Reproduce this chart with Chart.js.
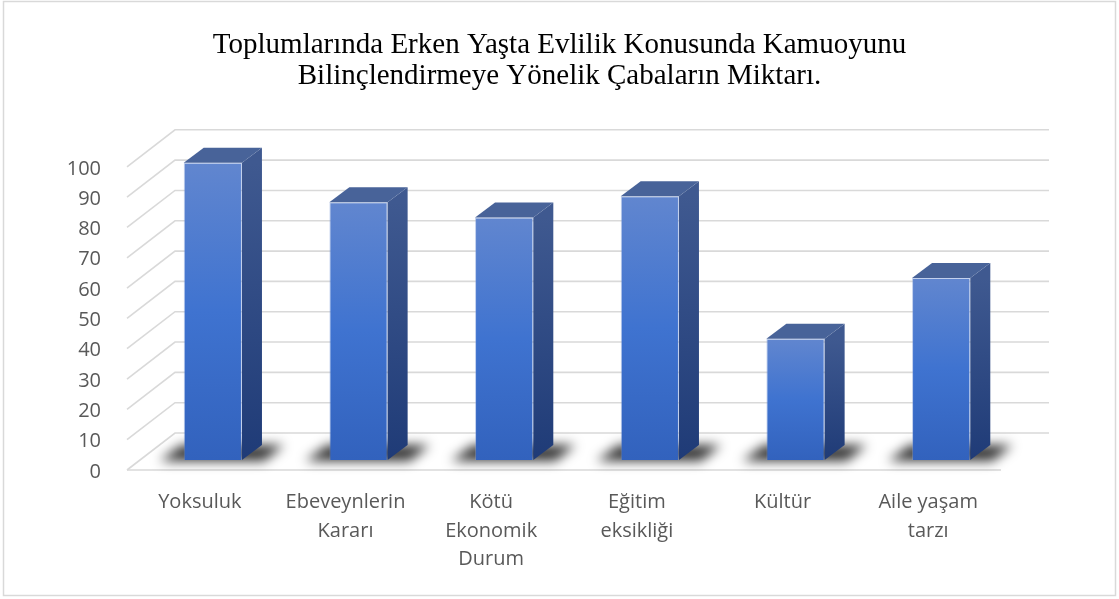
<!DOCTYPE html>
<html>
<head>
<meta charset="utf-8">
<script src="https://cdn.jsdelivr.net/npm/chart.js@4/dist/chart.umd.min.js"></script>
<style>
  html, body { margin: 0; padding: 0; background: #ffffff; }
  #wrap { width: 1119px; height: 599px; }
</style>
</head>
<body>
<div id="wrap"><canvas id="c" width="1119" height="599"></canvas></div>
<script>
// ---- data ----
const titleLines = ['Toplumlarında Erken Yaşta Evlilik Konusunda Kamuoyunu', 'Bilinçlendirmeye Yönelik Çabaların Miktarı.'];
const categories = [
  'Yoksuluk',
  ['Ebeveynlerin', 'Kararı'],
  ['Kötü', 'Ekonomik', 'Durum'],
  ['Eğitim', 'eksikliği'],
  'Kültür',
  ['Aile yaşam', 'tarzı']
];
const values = [98, 85, 80, 87, 40, 60];
const yMin = 0, yMax = 100, yStep = 10;

// ---- 3D geometry (px offsets relative to the bar front plane) ----
const DEPTH = { barDx: 20, barDy: -15, floorDx: -13, floorDy: 10, wallDx: 35, wallDy: -27 };
const GRID_COLOR = '#d9d9d9';

const threeD = {
  id: 'threeD',
  beforeDraw(chart) {
    const ctx = chart.ctx;
    ctx.save();
    ctx.fillStyle = '#ffffff';
    ctx.fillRect(0, 0, chart.width, chart.height);
    ctx.strokeStyle = '#d9d9d9';
    ctx.lineWidth = 1.5;
    ctx.strokeRect(3.5, 1.5, 1112, 594);
    ctx.restore();
  },
  beforeDatasetsDraw(chart) {
    const ctx = chart.ctx;
    const { left, right } = chart.chartArea;
    const y = chart.scales.y;
    ctx.save();
    ctx.strokeStyle = GRID_COLOR;
    ctx.lineWidth = 1.6;
    for (let v = yMin; v <= yMax; v += yStep) {
      const py = y.getPixelForValue(v);
      ctx.beginPath();
      ctx.moveTo(left + DEPTH.floorDx, py + DEPTH.floorDy);
      ctx.lineTo(left + DEPTH.wallDx, py + DEPTH.wallDy);
      ctx.lineTo(right + DEPTH.wallDx, py + DEPTH.wallDy);
      ctx.stroke();
    }
    // front floor edge
    const p0 = y.getPixelForValue(yMin);
    ctx.beginPath();
    ctx.moveTo(left + DEPTH.floorDx, p0 + DEPTH.floorDy);
    ctx.lineTo(right + DEPTH.floorDx, p0 + DEPTH.floorDy);
    ctx.stroke();

    // soft shadows on the floor
    const meta = chart.getDatasetMeta(0);
    ctx.filter = 'blur(6px)';
    ctx.fillStyle = 'rgba(0,0,0,0.8)';
    meta.data.forEach(bar => {
      const L = bar.x - bar.width / 2, R = bar.x + bar.width / 2, B = bar.base;
      ctx.beginPath();
      ctx.moveTo(L - 24, B + 1);
      ctx.lineTo(R + 22, B + 1);
      ctx.lineTo(R + 42, B - 15);
      ctx.lineTo(L - 2, B - 15);
      ctx.closePath();
      ctx.fill();
    });
    ctx.filter = 'none';
    ctx.restore();
  },
  afterDatasetsDraw(chart) {
    const ctx = chart.ctx;
    const meta = chart.getDatasetMeta(0);
    ctx.save();
    meta.data.forEach(bar => {
      const L = bar.x - bar.width / 2, R = bar.x + bar.width / 2, T = bar.y, B = bar.base;
      const dx = DEPTH.barDx, dy = DEPTH.barDy;
      // side face
      const gs = ctx.createLinearGradient(0, T, 0, B);
      gs.addColorStop(0, '#3f5990');
      gs.addColorStop(1, '#1f3b77');
      ctx.fillStyle = gs;
      ctx.beginPath();
      ctx.moveTo(R, T);
      ctx.lineTo(R + dx, T + dy);
      ctx.lineTo(R + dx, B + dy);
      ctx.lineTo(R, B);
      ctx.closePath();
      ctx.fill();
      // top face
      ctx.fillStyle = '#486399';
      ctx.beginPath();
      ctx.moveTo(L, T);
      ctx.lineTo(L + dx, T + dy);
      ctx.lineTo(R + dx, T + dy);
      ctx.lineTo(R, T);
      ctx.closePath();
      ctx.fill();
    });
    ctx.restore();
  }
};

function frontGradient(c) {
  const chart = c.chart;
  if (!chart.chartArea || c.type !== 'data') return '#4472c4';
  const ys = chart.scales.y;
  const top = ys.getPixelForValue(c.parsed.y);
  const bot = ys.getPixelForValue(0);
  const g = chart.ctx.createLinearGradient(0, top, 0, bot);
  g.addColorStop(0, '#6186cf');
  g.addColorStop(0.5, '#3f73d0');
  g.addColorStop(1, '#3262bd');
  return g;
}

new Chart(document.getElementById('c'), {
  type: 'bar',
  data: {
    labels: categories,
    datasets: [{
      data: values,
      backgroundColor: frontGradient,
      borderColor: 'rgba(120,150,215,0.45)',
      borderWidth: 1,
      borderSkipped: 'bottom',
      barPercentage: 0.4,
      categoryPercentage: 1.0
    }]
  },
  options: {
    responsive: false,
    animation: false,
    devicePixelRatio: 1,
    layout: { padding: 0 },
    plugins: {
      legend: { display: false },
      tooltip: { enabled: false },
      title: {
        display: true,
        text: titleLines,
        color: '#000000',
        font: { family: '"Liberation Serif", "Times New Roman", serif', size: 29, weight: 'normal', lineHeight: 1.1 },
        padding: { top: 29, bottom: 64 }
      }
    },
    scales: {
      x: {
        grid: { display: false, drawTicks: false },
        border: { display: false },
        afterFit(s) { s.height = 139; },
        ticks: {
          color: '#595959',
          font: { family: '"Open Sans", sans-serif', size: 20, lineHeight: 1.43 },
          padding: 28,
          labelOffset: -13,
          maxRotation: 0,
          minRotation: 0,
          autoSkip: false
        }
      },
      y: {
        min: yMin,
        max: yMax,
        grid: { display: false, drawTicks: false },
        border: { display: false },
        afterFit(s) { s.width = 140; },
        ticks: {
          stepSize: yStep,
          color: '#595959',
          font: { family: '"Open Sans", sans-serif', size: 20 },
          padding: 39,
          labelOffset: 12
        }
      },
      yRight: {
        position: 'right',
        min: yMin,
        max: yMax,
        grid: { display: false, drawTicks: false },
        border: { display: false },
        ticks: { display: false },
        afterFit(s) { s.width = 105; }
      }
    }
  },
  plugins: [threeD]
});
</script>
</body>
</html>
